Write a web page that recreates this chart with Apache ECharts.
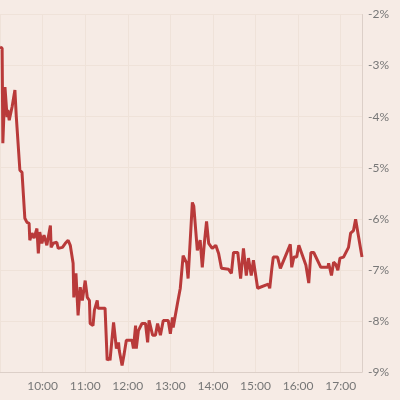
<!DOCTYPE html>
<html>
<head>
<meta charset="utf-8">
<script src="https://cdn.jsdelivr.net/npm/echarts@6/dist/echarts.min.js"></script>
<style>
  html, body { margin: 0; padding: 0; background: #f6ebe5; }
  #chart { width: 400px; height: 400px; }
</style>
</head>
<body>
<div id="chart"></div>
<script>
// 时间点（交易时段 9:00 - 17:30）
const times = [
  '09:00', '09:03', '09:04', '09:07', '09:08', '09:10', '09:11', '09:13', '09:17', '09:21',
  '09:23', '09:25', '09:28', '09:31', '09:35', '09:38', '09:41', '09:42', '09:45', '09:48',
  '09:52', '09:54', '09:56', '09:59', '10:02', '10:06', '10:11', '10:12', '10:15', '10:20',
  '10:22', '10:28', '10:32', '10:36', '10:39', '10:43', '10:44', '10:47', '10:50', '10:53',
  '10:56', '11:00', '11:03', '11:06', '11:07', '11:11', '11:13', '11:17', '11:18', '11:28',
  '11:31', '11:34', '11:35', '11:40', '11:44', '11:47', '11:48', '11:52', '11:55', '11:58',
  '12:06', '12:08', '12:11', '12:12', '12:15', '12:20', '12:25', '12:28', '12:30', '12:35',
  '12:39', '12:42', '12:46', '12:50', '12:57', '13:00', '13:03', '13:04', '13:10', '13:14',
  '13:18', '13:23', '13:25', '13:31', '13:33', '13:38', '13:42', '13:45', '13:48', '13:51',
  '13:54', '13:59', '14:04', '14:08', '14:12', '14:22', '14:26', '14:28', '14:29', '14:35',
  '14:39', '14:43', '14:47', '14:50', '14:54', '14:57', '15:03', '15:18', '15:20', '15:23',
  '15:25', '15:31', '15:35', '15:49', '15:51', '15:54', '15:58', '16:01', '16:11', '16:15',
  '16:18', '16:22', '16:32', '16:42', '16:43', '16:47', '16:50', '16:53', '16:56', '16:59',
  '17:04', '17:11', '17:14', '17:18', '17:21', '17:30'
]

// 涨跌幅 (%)
const values = [
  -2.64, -2.66, -4.52, -3.42, -3.44, -4.01, -3.87, -4.07, -3.81, -3.48,
  -4.01, -4.03, -5.05, -5.09, -5.99, -6.07, -6.09, -6.42, -6.28, -6.38,
  -6.19, -6.68, -6.26, -6.48, -6.32, -6.52, -6.13, -6.56, -6.48, -6.46,
  -6.58, -6.56, -6.48, -6.42, -6.52, -6.87, -7.54, -7.07, -7.89, -7.34,
  -7.60, -7.21, -7.54, -7.60, -8.05, -8.09, -7.79, -7.60, -7.75, -7.75,
  -8.77, -8.72, -8.77, -8.03, -8.54, -8.42, -8.58, -8.87, -8.64, -8.38,
  -8.38, -8.54, -8.09, -8.54, -8.19, -8.05, -8.05, -8.42, -7.99, -8.28,
  -8.28, -8.05, -8.28, -7.99, -7.99, -8.25, -7.93, -8.13, -7.66, -7.36,
  -6.72, -6.87, -7.17, -5.68, -5.75, -6.62, -6.42, -6.95, -6.46, -6.05,
  -6.48, -6.58, -6.52, -6.68, -6.97, -6.99, -7.07, -7.07, -6.66, -6.66,
  -7.17, -6.58, -7.11, -6.77, -7.11, -6.81, -7.36, -7.28, -7.36, -6.97,
  -6.75, -6.75, -6.97, -6.50, -6.95, -6.75, -6.75, -6.52, -6.91, -7.26,
  -6.66, -6.66, -6.95, -6.95, -6.87, -7.11, -6.85, -6.89, -7.01, -6.77,
  -6.75, -6.56, -6.28, -6.23, -6.01, -6.75
]

const toMinutes = (t) => {
  const [h, m] = t.split(':').map(Number)
  return h * 60 + m
}

const chart = echarts.init(document.getElementById('chart'))

const option = {
  backgroundColor: '#f6ebe5',
  animation: false,
  grid: {
    left: 0,
    right: 38,
    top: 14.5,
    bottom: 28
  },
  xAxis: {
    type: 'value',
    min: 540,
    max: 1050,
    interval: 60,
    axisLine: { show: true, lineStyle: { color: '#dccfc8', width: 1 } },
    axisTick: { show: false },
    axisLabel: {
      showMinLabel: false,
      showMaxLabel: false,
      color: '#777',
      fontFamily: 'Lato',
      fontSize: 12,
      margin: 8,
      formatter: (v) => {
        const h = Math.floor(v / 60)
        return h + ':00'
      }
    },
    splitLine: { show: true, lineStyle: { color: '#efe2d9', width: 1 } }
  },
  yAxis: {
    type: 'value',
    position: 'right',
    min: -9,
    max: -2,
    interval: 1,
    axisLine: { show: true, lineStyle: { color: '#dccfc8', width: 1 } },
    axisTick: { show: false },
    axisLabel: {
      color: '#777',
      fontFamily: 'Lato',
      fontSize: 12,
      margin: 6,
      formatter: '{value}%'
    },
    splitLine: { show: true, lineStyle: { color: '#efe2d9', width: 1 } }
  },
  series: [
    {
      type: 'line',
      data: times.map((t, i) => [toMinutes(t), values[i]]),
      showSymbol: false,
      lineStyle: { color: '#b93a3a', width: 3 },
      itemStyle: { color: '#b93a3a' }
    }
  ]
}

chart.setOption(option)
</script>
</body>
</html>
